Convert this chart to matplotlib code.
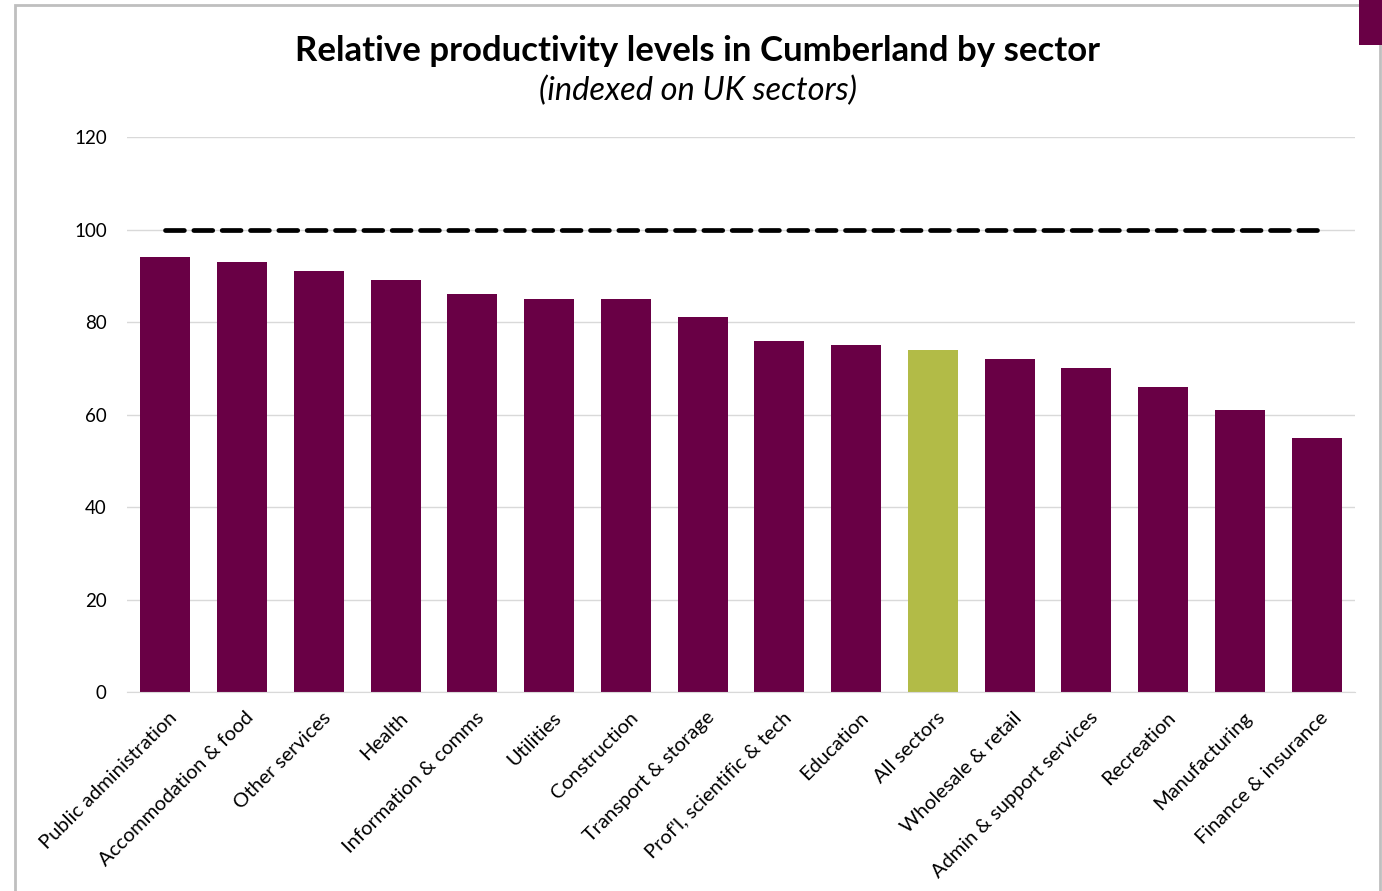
import numpy as np
import matplotlib.pyplot as plt
from matplotlib.patches import Rectangle
from matplotlib.transforms import ScaledTranslation

plt.rcParams['font.family'] = ['Lato', 'DejaVu Sans']

sectors = [
    "Public administration", "Accommodation & food", "Other services", "Health",
    "Information & comms", "Utilities", "Construction", "Transport & storage",
    "Prof'l, scientific & tech", "Education", "All sectors", "Wholesale & retail",
    "Admin & support services", "Recreation", "Manufacturing", "Finance & insurance",
]
index_values = [94, 93, 91, 89, 86, 85, 85, 81, 76, 75, 74, 72, 70, 66, 61, 55]
uk_level = [100] * len(sectors)

PURPLE = "#690045"
GREEN = "#B2BB47"
colors = [GREEN if s == "All sectors" else PURPLE for s in sectors]

fig = plt.figure(figsize=(13.82, 8.91), dpi=100)
ax = fig.add_axes([0.0919, 0.2233, 0.8886, 0.6229])

x = np.arange(len(sectors))
ax.bar(x, index_values, width=0.65, color=colors, zorder=2)
ax.plot(x, uk_level, color="black", linewidth=3.4, dashes=(4.0, 2.0),
        dash_capstyle="round", zorder=3)

ax.set_xlim(-0.5, len(sectors) - 0.5)
ax.set_ylim(0, 120)
ax.set_yticks(range(0, 121, 20))
ax.yaxis.grid(True, color="#D9D9D9", linewidth=1, zorder=0)
ax.set_axisbelow(True)
for side in ["top", "right", "left"]:
    ax.spines[side].set_visible(False)
ax.spines["bottom"].set_color("#D9D9D9")
ax.tick_params(axis="both", length=0, colors="black")
ax.tick_params(axis="y", pad=14.5, labelsize=13.5)
ax.tick_params(axis="x", pad=12, labelsize=14.5)

ax.set_xticks(x)
ax.set_xticklabels(sectors, rotation=45, ha="right", rotation_mode="anchor")
shift = ScaledTranslation(0.03, 0.0, fig.dpi_scale_trans)
for lbl in ax.get_xticklabels():
    lbl.set_transform(lbl.get_transform() + shift)

fig.text(0.505, 0.943, "Relative productivity levels in Cumberland by sector",
         ha="center", va="center", fontsize=25, fontweight="bold")
fig.text(0.505, 0.898, "(indexed on UK sectors)", ha="center", va="center",
         fontsize=23.5, style="italic")

# outer frame and corner tab
fig.patches.append(Rectangle((0.0105, -0.01), 0.988, 1.004, transform=fig.transFigure,
                             fill=False, edgecolor="#BFBFBF", linewidth=2))
fig.patches.append(Rectangle((0.983, 0.95), 0.02, 0.06, transform=fig.transFigure,
                             facecolor=PURPLE, edgecolor="none"))

fig.savefig("out.png", dpi=100)
